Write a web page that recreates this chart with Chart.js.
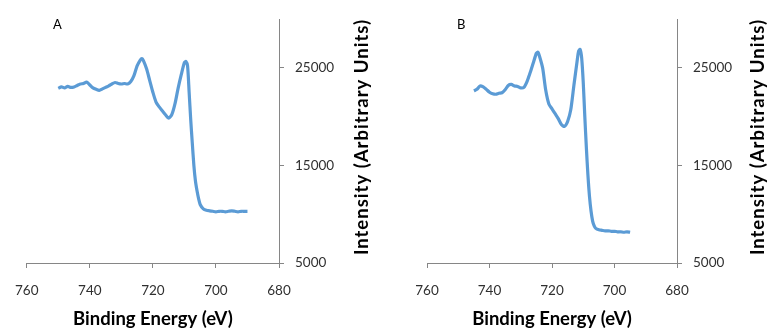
<!DOCTYPE html>
<html>
<head>
<meta charset="utf-8">
<script src="https://cdn.jsdelivr.net/npm/chart.js@4.4.1/dist/chart.umd.min.js"></script>
<style>
  html, body { margin: 0; padding: 0; background: #ffffff; }
  #wrap { position: relative; width: 769px; height: 333px; overflow: hidden; }
  .panel { position: absolute; top: 0; height: 333px; }
  #pa { left: 0; width: 385px; }
  #pb { left: 385px; width: 384px; }
</style>
</head>
<body>
<div id="wrap">
  <div class="panel" id="pa"><canvas id="ca"></canvas></div>
  <div class="panel" id="pb"><canvas id="cb"></canvas></div>
</div>
<script>
// ---- Data ----
const panelLabels = ['A', 'B'];
const xTitle = 'Binding Energy (eV)';
const yTitle = 'Intensity (Arbitrary Units)';
const xTicks = [760, 740, 720, 700, 680];
const yTicks = [5000, 15000, 25000];

const energyA = [750, 749, 748, 747, 746, 745, 744, 743, 742, 741, 740, 739, 738, 737, 736, 735, 734, 733, 732, 731,
                 730, 729, 728, 727, 726, 725, 724, 723.5, 723, 722, 721, 720, 719, 718, 717, 716, 715, 714, 713, 712,
                 711, 710, 709.5, 709, 708.5, 708, 707.5, 707, 706.5, 706, 705.5, 705, 704, 703, 702, 701, 700, 699,
                 698, 697, 696, 695, 694, 693, 692, 691, 690];
const intensityA = [22900, 23050, 22950, 23100, 23000, 23050, 23200, 23350, 23400, 23550, 23250, 22950, 22800, 22700, 22850, 23000, 23150, 23350, 23500, 23400,
                    23350, 23400, 23350, 23600, 24200, 25200, 25800, 25950, 25750, 24900, 23700, 22500, 21500, 21000, 20600, 20200, 19850, 20200, 21300, 22900,
                    24300, 25550, 25650, 25200, 22500, 19700, 17300, 15000, 13400, 12400, 11600, 11000, 10550, 10400, 10350, 10300, 10250, 10300,
                    10300, 10250, 10300, 10350, 10300, 10250, 10300, 10300, 10300];

const energyB = [745, 744, 743, 742, 741, 740, 739, 738, 737, 736, 735, 734, 733, 732, 731, 730, 729, 728, 727, 726,
                 725, 724.5, 724, 723, 722, 721, 720, 719, 718, 717, 716, 715, 714, 713, 712, 711.5, 711, 710.5, 710,
                 709.5, 709, 708.5, 708, 707.5, 707, 706.5, 706, 705, 704, 703, 702, 701, 700, 699, 698, 697, 696, 695];
const intensityB = [22650, 22800, 23150, 23050, 22800, 22500, 22350, 22300, 22400, 22450, 22750, 23200, 23300, 23150, 23100, 22950, 23000, 23600, 24500, 25500,
                    26500, 26600, 26200, 25000, 22700, 21300, 20800, 20300, 19800, 19200, 19000, 19500, 20700, 23200, 25600, 26700, 26900, 26000, 23500,
                    20000, 16800, 14000, 11800, 10300, 9300, 8800, 8550, 8400, 8350, 8300, 8300, 8250, 8250, 8200, 8200, 8150, 8200, 8150];

// ---- Chart construction ----
const AXIS = '#868686';
const LINE = '#5B9BD5';

function makeChart(canvasId, label, energy, intensity, geo) {
  const pts = energy.map((e, i) => ({ x: e, y: intensity[i] }));
  const overlay = {
    id: 'overlay' + label,
    afterDraw(chart) {
      const ctx = chart.ctx;
      ctx.save();
      ctx.fillStyle = '#000000';
      ctx.font = '13px Lato';
      ctx.textAlign = 'left';
      ctx.textBaseline = 'middle';
      ctx.fillText(label, geo.labelX, 25);
      ctx.translate(geo.titleX, 137);
      ctx.rotate(-Math.PI / 2);
      ctx.font = 'bold 18.5px Lato';
      if ('letterSpacing' in ctx) ctx.letterSpacing = '1px';
      ctx.textAlign = 'center';
      ctx.fillText(yTitle, 0, 0);
      ctx.restore();
    }
  };
  return new Chart(document.getElementById(canvasId), {
    type: 'line',
    data: {
      datasets: [{
        data: pts,
        borderColor: LINE,
        borderWidth: 3.2,
        pointRadius: 0,
        tension: 0.25,
        fill: false
      }]
    },
    options: {
      responsive: true,
      maintainAspectRatio: false,
      animation: false,
      events: [],
      layout: { padding: { left: geo.padLeft, top: 13, right: 0, bottom: 0 } },
      plugins: { legend: { display: false }, tooltip: { enabled: false }, title: { display: false } },
      scales: {
        x: {
          type: 'linear',
          reverse: true,
          min: 680,
          max: 760,
          afterBuildTicks: (s) => { s.ticks = xTicks.map(v => ({ value: v })); },
          afterFit: (s) => { s.height = 70; },
          grid: { drawOnChartArea: false, color: AXIS, tickLength: 5, lineWidth: 1 },
          border: { color: AXIS, width: 1 },
          ticks: { color: '#303030', font: { family: 'Lato', size: 13.5 }, padding: 15, maxRotation: 0 },
          title: { display: true, text: xTitle, color: '#000000', font: { family: 'Lato', size: 18.5, weight: 'bold' }, padding: { top: 0, bottom: 3 } }
        },
        y: {
          type: 'linear',
          position: 'right',
          min: 5000,
          max: 30000,
          afterBuildTicks: (s) => { s.ticks = yTicks.map(v => ({ value: v })); },
          afterFit: (s) => { s.width = geo.yWidth; },
          grid: { drawOnChartArea: false, color: AXIS, tickLength: 5, lineWidth: 1 },
          border: { color: AXIS, width: 1 },
          ticks: { color: '#303030', font: { family: 'Lato', size: 13.5 }, padding: 11, callback: (v) => String(v) },
          title: { display: false }
        }
      }
    },
    plugins: [overlay]
  });
}

makeChart('ca', panelLabels[0], energyA, intensityA, { padLeft: 23, yWidth: 106, labelX: 53, titleX: 362 });
makeChart('cb', panelLabels[1], energyB, intensityB, { padLeft: 42, yWidth: 92, labelX: 72, titleX: 373 });
</script>
</body>
</html>
